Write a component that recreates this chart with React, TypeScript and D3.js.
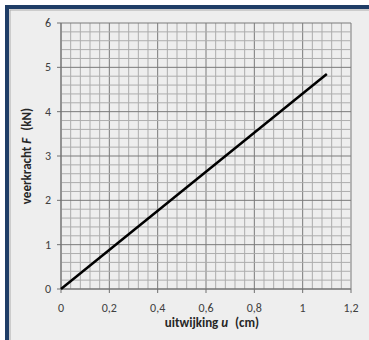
import React from "react";
import * as d3 from "d3";

const uValues = [0, 1.1];
const fValues = [0, 4.85];
const xTicks = [0, 0.2, 0.4, 0.6, 0.8, 1, 1.2];
const yTicks = [0, 1, 2, 3, 4, 5, 6];
const xLabel = "uitwijking";
const xVar = "u";
const xUnit = "(cm)";
const yLabel = "veerkracht";
const yVar = "F";
const yUnit = "(kN)";

export default function App() {
  const W = 369, H = 340;
  const x = d3.scaleLinear().domain([0, 1.2]).range([61, 351]);
  const y = d3.scaleLinear().domain([0, 6]).range([289, 23]);
  const minorX = d3.range(0, 31).map((i) => (i * 1.2) / 30);
  const minorY = d3.range(0, 31).map((i) => (i * 6) / 30);
  const line = d3
    .line<number>()
    .x((_, i) => x(uValues[i]))
    .y((d) => y(d));
  const fmt = (v: number) => String(v).replace(".", ",");
  const font = "Carlito, 'Open Sans', 'Liberation Sans', sans-serif";
  return (
    <svg
      width={W}
      height={H}
      style={{ position: "absolute", left: 0, top: 0, background: "#fff" }}
      fontFamily={font}
    >
      <rect x={0} y={0} width={W} height={H} fill="#ffffff" />
      <rect x={7} y={7} width={W + 20} height={H + 20} fill="#eeeeee" stroke="#1f3d66" strokeWidth={4} />
      <rect x={10} y={10} width={W + 20} height={H + 20} fill="none" stroke="#a9a9a9" strokeWidth={1} />
      {minorX.map((v, i) => (
        <line key={"mx" + i} x1={x(v)} x2={x(v)} y1={y(0)} y2={y(6)} stroke={i % 5 === 0 ? "#7a7a7a" : "#adadad"} strokeWidth={1} />
      ))}
      {minorY.map((v, i) => (
        <line key={"my" + i} y1={y(v)} y2={y(v)} x1={x(0)} x2={x(1.2)} stroke={i % 5 === 0 ? "#7a7a7a" : "#adadad"} strokeWidth={1} />
      ))}
      <line x1={x(0)} x2={x(1.2)} y1={y(0)} y2={y(0)} stroke="#707070" />
      <line x1={x(0)} x2={x(0)} y1={y(0)} y2={y(6)} stroke="#707070" />
      {xTicks.map((t) => (
        <g key={"xt" + t}>
          <line x1={x(t)} x2={x(t)} y1={y(0)} y2={y(0) + 4} stroke="#707070" />
          <text x={x(t)} y={y(0) + 23} textAnchor="middle" fontSize={12} fill="#404040">
            {fmt(t)}
          </text>
        </g>
      ))}
      {yTicks.map((t) => (
        <g key={"yt" + t}>
          <line x1={x(0) - 4} x2={x(0)} y1={y(t)} y2={y(t)} stroke="#707070" />
          <text x={51} y={y(t) + 4} textAnchor="end" fontSize={12} fill="#404040">
            {fmt(t)}
          </text>
        </g>
      ))}
      <path d={line(fValues) || ""} fill="none" stroke="#000" strokeWidth={2.5} />
      <text x={212} y={327} textAnchor="middle" fontSize={13} fontWeight="bold" fill="#262626">
        {xLabel} <tspan fontStyle="italic">{xVar}</tspan>
        <tspan dx={4}>{" " + xUnit}</tspan>
      </text>
      <text
        transform={`translate(31,156) rotate(-90)`}
        textAnchor="middle"
        fontSize={13}
        fontWeight="bold"
        fill="#262626"
      >
        {yLabel} <tspan fontStyle="italic">{yVar}</tspan>
        <tspan dx={4}>{" " + yUnit}</tspan>
      </text>
    </svg>
  );
}
